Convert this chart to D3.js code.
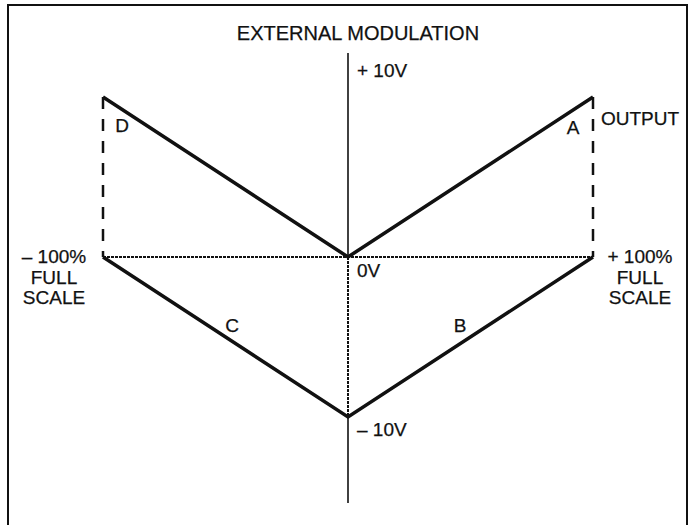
<!DOCTYPE html>
<html>
<head>
<meta charset="utf-8">
<script src="https://cdn.jsdelivr.net/npm/d3@7"></script>
<style>
  body { margin: 0; background: #fff; }
  svg text { font-family: "Liberation Sans", Arial, sans-serif; fill: #111; stroke: #111; stroke-width: 0.25px; }
</style>
</head>
<body>
<div id="graph"></div>
<script>
// chart values
var fullScale = [-100, 0, 100];          // % full scale
var upperOutput = [10, 0, 10];            // V, segments D and A
var lowerOutput = [0, -10, 0];            // V, segments C and B
var segmentNames = ["D", "A", "C", "B"];
var voltLabels = ["+ 10V", "0V", "\u2013 10V"];
var voltValues = [10, 0, -10];
var scaleLabels = [["\u2013 100%", "FULL", "SCALE"], ["+ 100%", "FULL", "SCALE"]];

var width = 693, height = 525;

var svg = d3.select("#graph")
    .append("svg")
    .attr("width", width)
    .attr("height", height);

var xScale = d3.scaleLinear().domain([-100, 100]).range([103, 593]);
var yScale = d3.scaleLinear().domain([-10, 10]).range([417, 97]);

// frame
svg.append("rect")
    .attr("x", 8).attr("y", 5)
    .attr("width", 679).attr("height", 530)
    .attr("fill", "none")
    .attr("stroke", "#111")
    .attr("stroke-width", 2);

// vertical axis
var ax = xScale(0);
svg.append("line")
    .attr("x1", ax).attr("x2", ax)
    .attr("y1", 53).attr("y2", yScale(0))
    .attr("stroke", "#111").attr("stroke-width", 1.6);
svg.append("line")
    .attr("x1", ax).attr("x2", ax)
    .attr("y1", yScale(0)).attr("y2", yScale(-10))
    .attr("stroke", "#111").attr("stroke-width", 2)
    .attr("stroke-dasharray", "3,1");
svg.append("line")
    .attr("x1", ax).attr("x2", ax)
    .attr("y1", yScale(-10)).attr("y2", 503)
    .attr("stroke", "#111").attr("stroke-width", 1.6);

// horizontal zero line
svg.append("line")
    .attr("x1", xScale(-100)).attr("x2", xScale(100))
    .attr("y1", yScale(0)).attr("y2", yScale(0))
    .attr("stroke", "#111").attr("stroke-width", 2.2)
    .attr("stroke-dasharray", "3,1");

// dashed output verticals
[-100, 100].forEach(function(v) {
    svg.append("line")
        .attr("x1", xScale(v)).attr("x2", xScale(v))
        .attr("y1", yScale(10)).attr("y2", yScale(0))
        .attr("stroke", "#111").attr("stroke-width", 2.5)
        .attr("stroke-dasharray", "12,10");
});

var path = d3.line()
    .x(function(d) { return xScale(d[0]); })
    .y(function(d) { return yScale(d[1]); });

[upperOutput, lowerOutput].forEach(function(vals) {
    svg.append("path")
        .datum(fullScale.map(function(f, i) { return [f, vals[i]]; }))
        .attr("d", path)
        .attr("fill", "none")
        .attr("stroke", "#111")
        .attr("stroke-width", 3.5)
        .attr("stroke-linejoin", "miter");
});

// title
svg.append("text")
    .attr("x", 358).attr("y", 40)
    .attr("text-anchor", "middle")
    .style("font-size", "20px")
    .text("EXTERNAL MODULATION");

// volt labels
var voltOffsets = [-20, 20, 19];
voltLabels.forEach(function(t, i) {
    svg.append("text")
        .attr("x", ax + 9)
        .attr("y", (i === 0 ? 77 : yScale(voltValues[i]) + voltOffsets[i]))
        .style("font-size", "19px")
        .text(t);
});

svg.append("text")
    .attr("x", 601).attr("y", 125)
    .style("font-size", "19px")
    .text("OUTPUT");

// segment letters
var letterPos = [[122, 132], [573, 134], [232, 332], [460, 332]];
segmentNames.forEach(function(n, i) {
    svg.append("text")
        .attr("x", letterPos[i][0]).attr("y", letterPos[i][1])
        .attr("text-anchor", "middle")
        .style("font-size", "19px")
        .text(n);
});

// full scale labels
var blockX = [54, 640];
scaleLabels.forEach(function(lines, j) {
    lines.forEach(function(t, k) {
        svg.append("text")
            .attr("x", blockX[j]).attr("y", 263 + k * 20.5)
            .attr("text-anchor", "middle")
            .style("font-size", "19px")
            .text(t);
    });
});
</script>
</body>
</html>
